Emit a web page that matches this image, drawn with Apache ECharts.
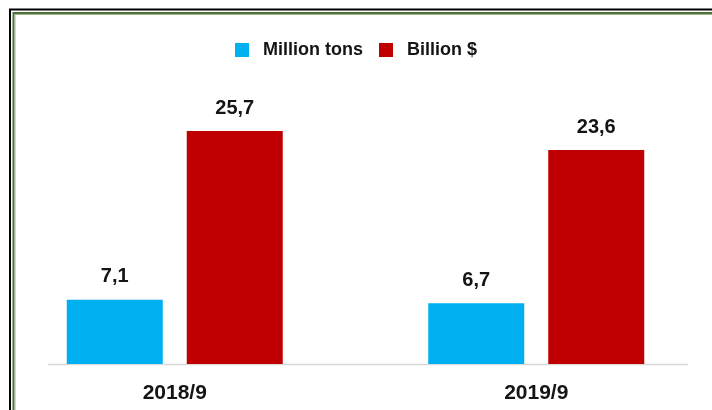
<!DOCTYPE html>
<html>
<head>
<meta charset="utf-8">
<script src="https://cdn.jsdelivr.net/npm/echarts@6/dist/echarts.min.js"></script>
<style>
  html, body { margin: 0; padding: 0; background: #fff; }
  #chart { width: 712px; height: 410px; }
</style>
</head>
<body>
<div id="chart"></div>
<script>
// Periods compared
const categories = ['2018/9', '2019/9'];
// Volume, in million tons
const millionTons = [7.1, 6.7];
// Value, in billion dollars
const billionUsd = [25.7, 23.6];
const seriesNames = ['Million tons', 'Billion $'];

const FONT = '"Liberation Sans", Arial, sans-serif';
const TEXT = '#141414';

const fmt = v => String(v).replace('.', ',');

const chart = echarts.init(document.getElementById('chart'), null, { renderer: 'canvas' });

const valueLabel = {
  show: true,
  position: 'top',
  distance: 13,
  color: TEXT,
  fontFamily: FONT,
  fontWeight: 'bold',
  fontSize: 20,
  formatter: p => fmt(p.value)
};

chart.setOption({
  animation: false,
  backgroundColor: '#ffffff',
  legend: {
    top: 36,
    left: 'center',
    itemWidth: 14,
    itemHeight: 14,
    itemGap: 16,
    icon: 'rect',
    textStyle: {
      color: TEXT,
      fontFamily: FONT,
      fontWeight: 'bold',
      fontSize: 18,
      padding: [0, 0, 0, 9]
    },
    data: seriesNames
  },
  grid: {
    left: -6,
    right: -5,
    top: 92,
    bottom: 46,
    containLabel: false,
    outerBoundsMode: 'none'
  },
  xAxis: {
    type: 'category',
    data: categories,
    axisLine: { show: false },
    axisTick: { show: false },
    axisLabel: {
      margin: 19,
      color: TEXT,
      fontFamily: FONT,
      fontWeight: 'bold',
      fontSize: 21
    }
  },
  yAxis: {
    type: 'value',
    min: 0,
    max: 30,
    show: false,
    splitLine: { show: false }
  },
  series: [
    {
      name: seriesNames[0],
      type: 'bar',
      data: millionTons,
      barWidth: 96,
      barGap: '25%',
      itemStyle: { color: '#00B0F0' },
      label: valueLabel
    },
    {
      name: seriesNames[1],
      type: 'bar',
      data: billionUsd,
      barWidth: 96,
      barGap: '25%',
      itemStyle: { color: '#C00000' },
      label: valueLabel
    }
  ],
  graphic: [
    // baseline of the plot
    { type: 'line', shape: { x1: 48, y1: 364.5, x2: 688, y2: 364.5 }, style: { stroke: '#d9d9d9', lineWidth: 1.5 }, z: 0 },
    // double frame: outer black, inner green
    { type: 'rect', shape: { x: 10, y: 9.5, width: 720, height: 420 }, style: { fill: 'none', stroke: '#000000', lineWidth: 2 }, silent: true },
    { type: 'rect', shape: { x: 13.5, y: 13, width: 720, height: 420 }, style: { fill: 'none', stroke: '#4e6e3e', lineWidth: 2 }, silent: true },
    { type: 'rect', shape: { x: 15, y: 14.5, width: 720, height: 420 }, style: { fill: 'none', stroke: '#9dbb8a', lineWidth: 1 }, silent: true }
  ]
});
</script>
</body>
</html>
